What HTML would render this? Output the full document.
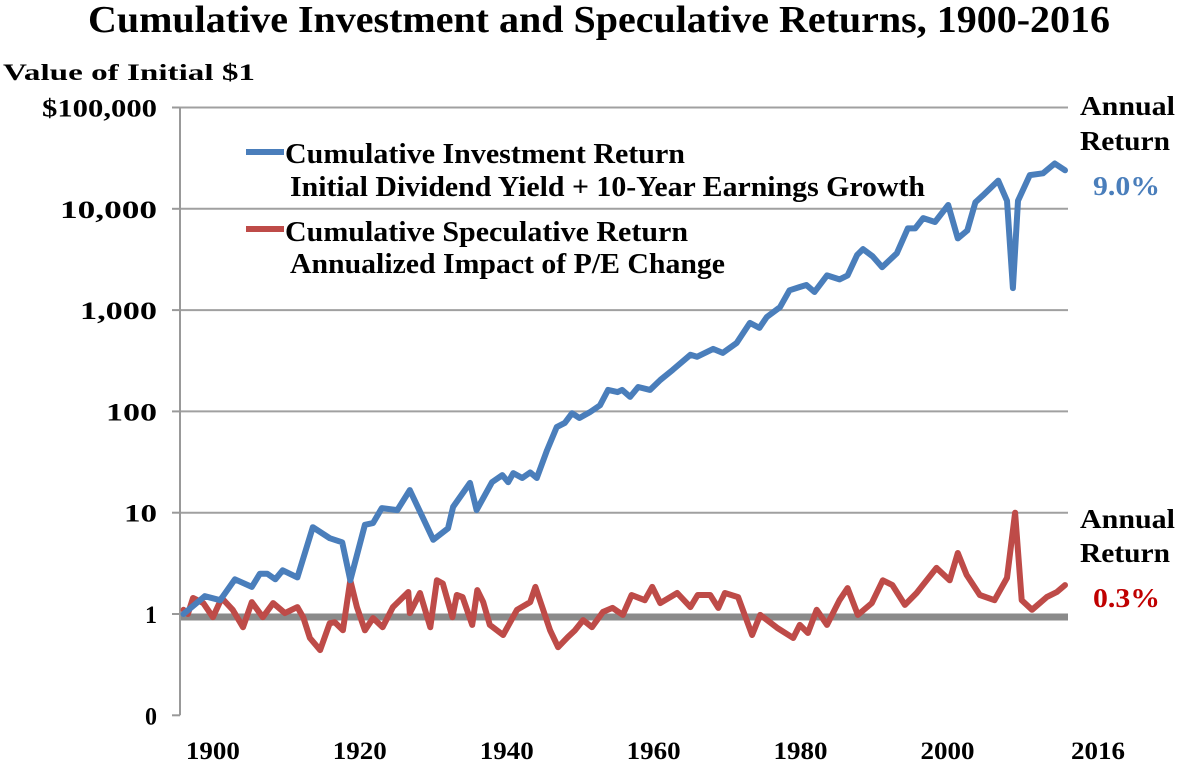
<!DOCTYPE html>
<html><head><meta charset="utf-8">
<style>
body{margin:0;background:#fff;}
svg text{font-family:"Liberation Serif",serif;font-weight:bold;fill:#000;}
</style></head>
<body>
<svg id="chart" width="1177" height="766" viewBox="0 0 1177 766" xmlns="http://www.w3.org/2000/svg">
<text x="88" y="32" font-size="38" textLength="1022" lengthAdjust="spacingAndGlyphs">Cumulative Investment and Speculative Returns, 1900-2016</text>
<text x="3" y="80" font-size="23" textLength="252" lengthAdjust="spacingAndGlyphs">Value of Initial $1</text>
<g id="grid"></g>
<g id="yticks"></g>
<g id="xticks"></g>
<g id="series"></g>
<g>
<line x1="246" y1="152" x2="284" y2="152" stroke="#4a7ebb" stroke-width="6"/>
<text x="285" y="163" font-size="29" textLength="400" lengthAdjust="spacingAndGlyphs">Cumulative Investment Return</text>
<text x="290" y="196" font-size="29" textLength="635" lengthAdjust="spacingAndGlyphs">Initial Dividend Yield + 10-Year Earnings Growth</text>
<line x1="246" y1="229" x2="284" y2="229" stroke="#be4b48" stroke-width="6"/>
<text x="285" y="241" font-size="29" textLength="403" lengthAdjust="spacingAndGlyphs">Cumulative Speculative Return</text>
<text x="290" y="273" font-size="29" textLength="435" lengthAdjust="spacingAndGlyphs">Annualized Impact of P/E Change</text>
</g>
<g>
<text x="1080" y="115" font-size="27" textLength="95" lengthAdjust="spacingAndGlyphs">Annual</text>
<text x="1080" y="150" font-size="27" textLength="90" lengthAdjust="spacingAndGlyphs">Return</text>
<text x="1093" y="195" font-size="27" textLength="67" lengthAdjust="spacingAndGlyphs" style="fill:#4a7ebb">9.0%</text>
</g>
<g>
<text x="1080" y="528" font-size="27" textLength="95" lengthAdjust="spacingAndGlyphs">Annual</text>
<text x="1080" y="562" font-size="27" textLength="90" lengthAdjust="spacingAndGlyphs">Return</text>
<text x="1093" y="607" font-size="27" textLength="67" lengthAdjust="spacingAndGlyphs" style="fill:#c00000">0.3%</text>
</g>
</svg>
<script>
const yTickValues=[100000,10000,1000,100,10,1,0.1];
const yTickLabels=["$100,000","10,000","1,000","100","10","1","0"];
const xTickLabels=["1900","1920","1940","1960","1980","2000","2016"];
const xTickYears=[1900,1920,1940,1960,1980,2000,2020];
const invYears=[1896.0,1898.9,1901.0,1903.0,1905.3,1906.4,1907.4,1908.5,1909.5,1911.5,1913.6,1915.9,1917.6,1918.7,1920.7,1921.8,1923.0,1925.1,1926.8,1930.0,1932.0,1932.7,1935.0,1935.9,1938.0,1939.4,1940.2,1940.9,1942.1,1943.2,1944.1,1945.5,1946.8,1947.9,1948.9,1949.9,1951.3,1952.7,1953.8,1955.1,1955.7,1956.8,1957.9,1959.5,1960.9,1962.6,1965.0,1965.9,1968.1,1969.4,1971.3,1973.1,1974.4,1975.4,1977.2,1978.5,1979.9,1980.8,1981.9,1983.6,1985.3,1986.4,1987.7,1988.5,1989.8,1991.1,1993.1,1994.6,1995.6,1996.7,1998.3,2000.1,2001.4,2002.7,2003.8,2004.8,2006.9,2008.1,2008.9,2009.6,2011.2,2013.0,2014.6,2016.0];
const invValues=[1.0,1.5,1.37,2.2,1.85,2.5,2.5,2.2,2.7,2.3,7.2,5.6,5.1,2.15,7.6,7.9,11.1,10.6,16.7,5.4,7.0,11.4,19.7,10.6,20,23.5,20,24.6,22,25,22,41.5,70,77,96,86,98,115,163,155,163,139,174,163,204,257,362,346,414,378,475,748,667,855,1068,1570,1690,1770,1510,2200,2010,2200,3500,4000,3400,2650,3640,6400,6400,8100,7400,10900,5100,6100,11600,13500,19000,12000,1650,12000,21500,22400,28000,24000];
const specYears=[1896.0,1896.6,1897.3,1898.7,1900.0,1901.2,1902.7,1904.1,1905.3,1906.8,1908.2,1909.8,1911.5,1912.3,1913.2,1914.6,1915.9,1916.6,1917.7,1918.7,1919.6,1920.7,1921.8,1923.1,1924.5,1926.6,1926.8,1928.2,1929.6,1930.5,1931.3,1932.6,1933.2,1934.0,1935.3,1936.0,1936.8,1937.7,1939.5,1941.4,1943.2,1943.9,1945.9,1947.0,1948.3,1949.3,1950.4,1951.6,1953.1,1954.4,1955.8,1957.0,1958.8,1959.8,1960.9,1963.2,1965.0,1966.0,1967.7,1968.8,1969.7,1971.5,1973.4,1974.5,1976.8,1979.0,1979.9,1981.0,1982.2,1983.6,1985.3,1986.4,1987.8,1989.7,1991.2,1992.5,1994.2,1995.8,1998.5,2000.3,2001.4,2002.6,2004.4,2006.4,2008.1,2009.2,2010.1,2011.5,2013.5,2014.9,2016.0];
const specValues=[1.1,1.0,1.44,1.28,0.93,1.44,1.1,0.74,1.31,0.93,1.28,1.02,1.17,0.93,0.58,0.44,0.81,0.83,0.69,2.15,1.17,0.69,0.91,0.74,1.17,1.65,1.02,1.61,0.74,2.15,2.0,0.93,1.54,1.47,0.78,1.72,1.31,0.78,0.62,1.1,1.31,1.85,0.69,0.47,0.59,0.69,0.87,0.74,1.05,1.15,0.98,1.54,1.37,1.85,1.28,1.61,1.17,1.54,1.54,1.15,1.61,1.47,0.62,0.98,0.73,0.58,0.78,0.65,1.1,0.78,1.37,1.8,0.98,1.28,2.15,1.93,1.23,1.61,2.85,2.15,4.0,2.43,1.54,1.37,2.27,10,1.37,1.1,1.47,1.65,1.93];

const NS='http://www.w3.org/2000/svg';
const X0=180,X1=1068;
const yLabelWidths=[115,97,77,51,33,12,12];
function xScale(yr){return 183.5+(yr-1896)*7.346;}
function yScale(v){return 614-Math.log10(v)*101.3;}
function mk(tag,attrs,parent){const e=document.createElementNS(NS,tag);for(const k in attrs)e.setAttribute(k,attrs[k]);parent.appendChild(e);return e;}
const grid=document.getElementById('grid'),yt=document.getElementById('yticks'),xt=document.getElementById('xticks'),ser=document.getElementById('series');
yTickValues.forEach((v,i)=>{
  const y=yScale(v);
  if(v>1){const g=mk('line',{x1:X0,x2:X1,y1:y,y2:y,stroke:'#a0a0a0','stroke-width':2},grid);
  
  }
  const tk=mk('line',{x1:172,x2:X0,y1:y,y2:y,stroke:'#999','stroke-width':2},yt);
  
  
  const t=mk('text',{x:157-yLabelWidths[i],y:y+9,'font-size':25,textLength:yLabelWidths[i],lengthAdjust:'spacingAndGlyphs'},yt);
  t.textContent=yTickLabels[i];
  
  
});
const ax=mk('line',{x1:X0,x2:X0,y1:yScale(100000),y2:yScale(0.1),stroke:'#999','stroke-width':2},yt);


const band=mk('line',{x1:X0,x2:X1,y1:yScale(1)+3,y2:yScale(1)+3,stroke:'#8a8a8a','stroke-width':7},grid);


xTickLabels.forEach((l,i)=>{
  let x=xScale(xTickYears[i]); if(i===6)x=1098;
  const t=mk('text',{x:x-27,y:759,'font-size':25,textLength:54,lengthAdjust:'spacingAndGlyphs'},xt);
  t.textContent=l;
  
  
});
function line(yrs,vals,color,name){
  const d=yrs.map((yr,i)=>(i?'L':'M')+xScale(yr).toFixed(1)+','+yScale(vals[i]).toFixed(1)).join('');
  const p=mk('path',{d:d,fill:'none',stroke:color,'stroke-width':6,'stroke-linejoin':'round','stroke-linecap':'round'},ser);
  
  
}
line(specYears,specValues,'#be4b48','speculative-return-line');
line(invYears,invValues,'#4a7ebb','investment-return-line');
</script>
</body></html>
